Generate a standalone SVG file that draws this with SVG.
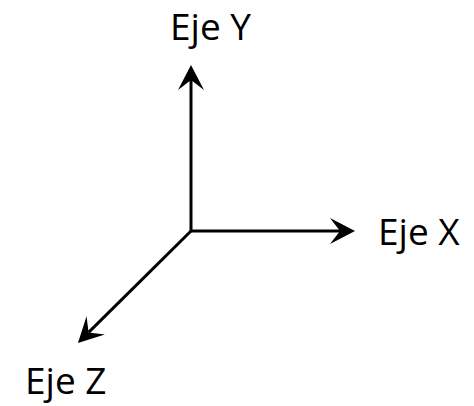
<svg xmlns="http://www.w3.org/2000/svg" width="474" height="406" viewBox="0 0 474 406">
<style>
.axis{stroke:#000;stroke-width:3;fill:none}
.lbl{font-family:"Open Sans","Noto Sans",sans-serif;font-size:37px;fill:#000}
</style>
<defs>
<marker id="arr" markerUnits="userSpaceOnUse" orient="auto" refX="0" refY="0" viewBox="-11 -14 27 28" markerWidth="27" markerHeight="28">
<path d="M15,0 L-10,-13 L0,0 L-10,13 Z" fill="#000"/>
</marker>
</defs>
<rect width="474" height="406" fill="#fff"/>
<g id="connectors">
<line class="axis" x1="191" y1="231" x2="191" y2="80" marker-end="url(#arr)"/>
<line class="axis" x1="191" y1="231" x2="340" y2="231" marker-end="url(#arr)"/>
<line class="axis" x1="192" y1="230" x2="88.6" y2="332.4" marker-end="url(#arr)"/>
</g>
<g id="eje-y"><text class="lbl" x="170" y="40">Eje Y</text></g>
<g id="eje-x"><text class="lbl" x="378" y="245">Eje X</text></g>
<g id="eje-z"><text class="lbl" x="25" y="394">Eje Z</text></g>
</svg>
